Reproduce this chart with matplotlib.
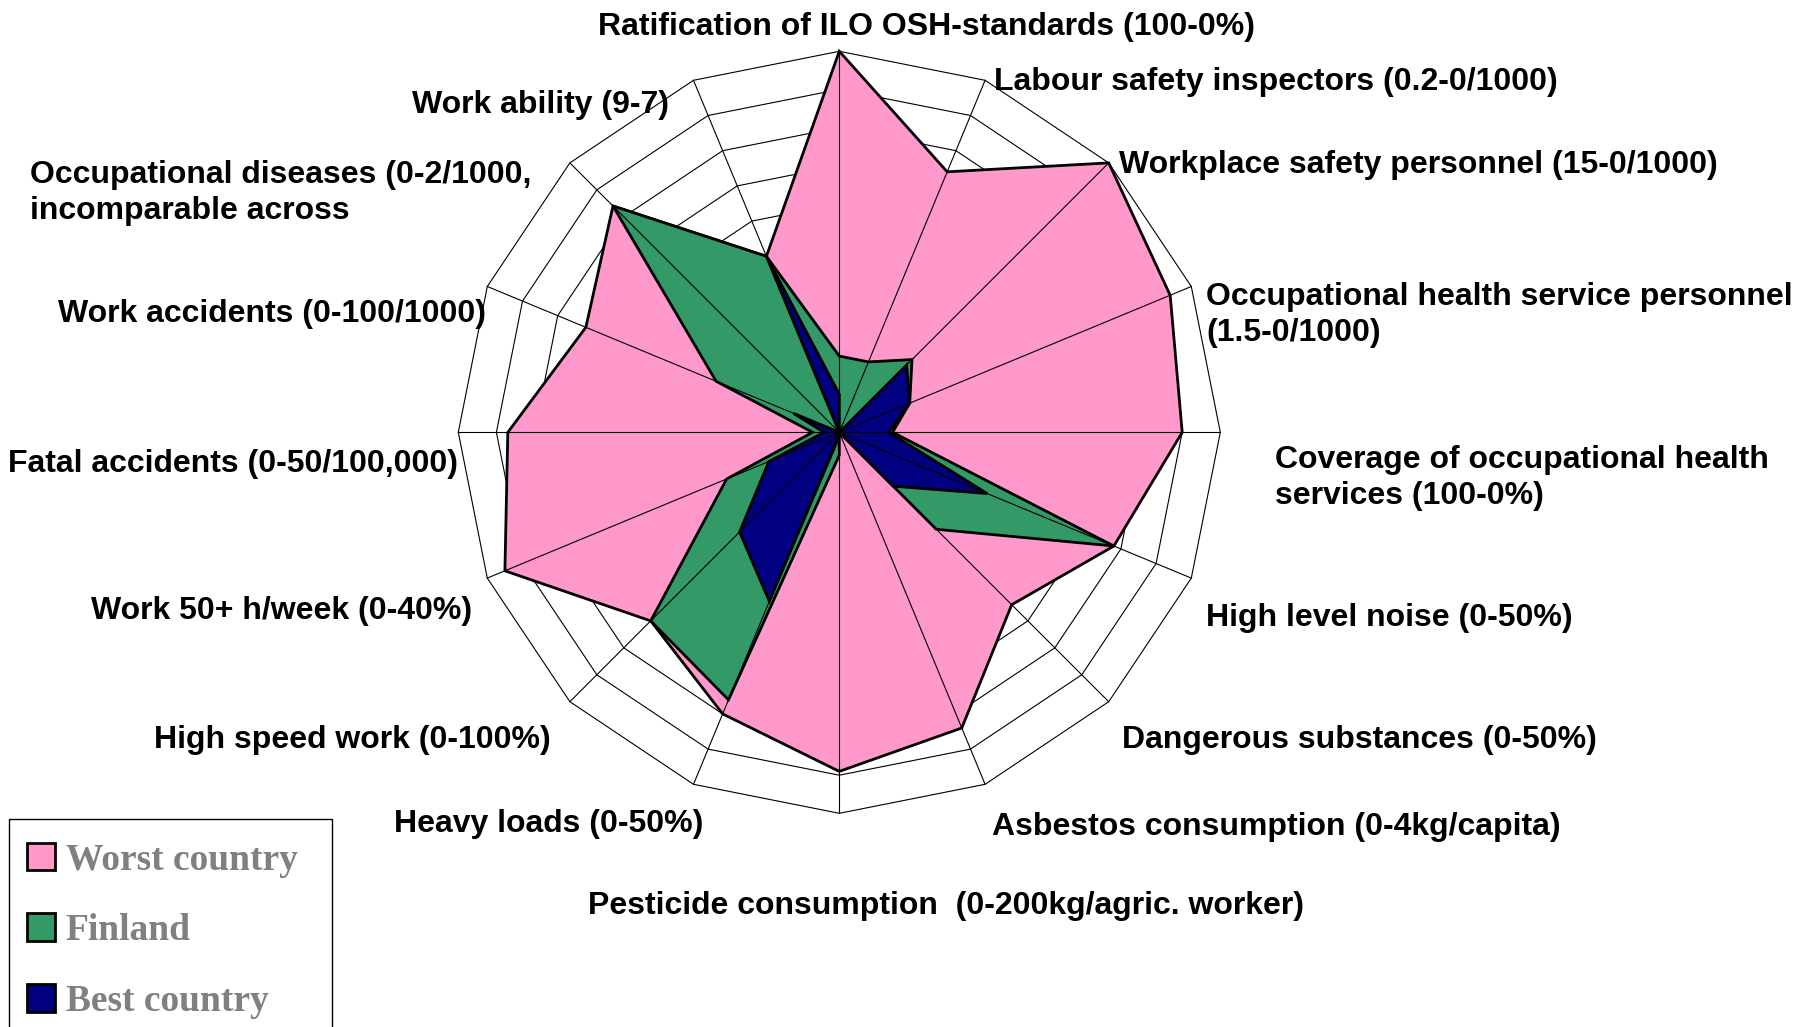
import numpy as np
import matplotlib
matplotlib.use("Agg")
import matplotlib.pyplot as plt
from matplotlib.patches import Rectangle

# Radar chart: occupational safety and health indicators (worst / Finland / best)

categories = [
    "Ratification of ILO OSH-standards (100-0%)",
    "Labour safety inspectors (0.2-0/1000)",
    "Workplace safety personnel (15-0/1000)",
    "Occupational health service personnel\n(1.5-0/1000)",
    "Coverage of occupational health\nservices (100-0%)",
    "High level noise (0-50%)",
    "Dangerous substances (0-50%)",
    "Asbestos consumption (0-4kg/capita)",
    "Pesticide consumption  (0-200kg/agric. worker)",
    "Heavy loads (0-50%)",
    "High speed work (0-100%)",
    "Work 50+ h/week (0-40%)",
    "Fatal accidents (0-50/100,000)",
    "Work accidents (0-100/1000)",
    "Occupational diseases (0-2/1000,\nincomparable across",
    "Work ability (9-7)",
]

worst = [1.00, 0.74, 1.00, 0.94, 0.90, 0.78, 0.64, 0.84, 0.89, 0.80, 0.70, 0.95, 0.87, 0.72, 0.84, 0.50]
finland = [0.20, 0.20, 0.27, 0.20, 0.14, 0.78, 0.36, 0.00, 0.06, 0.76, 0.70, 0.32, 0.07, 0.35, 0.84, 0.50]
best = [0.10, 0.00, 0.25, 0.20, 0.13, 0.42, 0.20, 0.00, 0.01, 0.48, 0.37, 0.20, 0.04, 0.13, 0.00, 0.50]

series_names = ["Worst country", "Finland", "Best country"]
series_colors = ["#FF99CC", "#339966", "#000080"]

# label anchor positions in pixels (x, y, ha)
label_pos = [
    (926, 27, "center"), (994, 82, "left"), (1119, 165, "left"),
    (1206, 315, "left"), (1275, 478, "left"), (1206, 618, "left"),
    (1122, 740, "left"), (992, 827, "left"), (588, 906, "left"),
    (703, 824, "right"), (551, 740, "right"), (472, 611, "right"),
    (458, 464, "right"), (486, 314, "right"), (30, 193, "left"),
    (669, 105, "right"),
]

W, H = 1809, 1027
fig = plt.figure(figsize=(W / 100, H / 100), dpi=100)
fig.patch.set_facecolor("white")

cx, cy, R = 839.3, 432.3, 381
ax = fig.add_axes([(cx - R) / W, (H - cy - R) / H, 2 * R / W, 2 * R / H], projection="polar")
ax.set_theta_zero_location("N")
ax.set_theta_direction(-1)
ax.set_ylim(0, 1)
ax.set_xticks([])
ax.set_yticks([])
ax.grid(False)
ax.spines["polar"].set_visible(False)

n = len(categories)
angles = np.arange(n) * 2 * np.pi / n
closed = np.append(angles, angles[0])

# polygon rings
for r in np.arange(1, 11) / 10:
    ax.plot(closed, [r] * (n + 1), color="black", lw=0.8, zorder=1, clip_on=False)

handles = []
for i, (vals, col) in enumerate(zip([worst, finland, best], series_colors)):
    v = np.append(vals, vals[0])
    p = ax.fill(closed, v, facecolor=col, edgecolor="black", lw=2.0,
                zorder=2 + i, clip_on=False)
    handles.append(p[0])

# spokes on top
for a in angles:
    ax.plot([a, a], [0, 1], color="black", lw=0.8, zorder=6, clip_on=False)

for text, (x, y, ha) in zip(categories, label_pos):
    fig.text(x / W, 1 - y / H, text, ha=ha, va="center", fontsize=23,
             fontweight="bold", family="Liberation Sans", linespacing=1.25)

# legend box runs off the bottom edge of the figure
fig.add_artist(Rectangle((9 / W, -0.05), 322.5 / W, 0.05 + 1 - 819.5 / H,
                         transform=fig.transFigure, facecolor="white",
                         edgecolor="black", lw=1.0, zorder=9))
leg = fig.legend(handles, series_names, loc="upper left",
                 bbox_to_anchor=(26.5 / W, 1 - 842.6 / H),
                 borderaxespad=0, frameon=False,
                 prop=dict(family="Liberation Serif", weight="bold", size=27),
                 labelcolor="#808080", handlelength=0.75, handleheight=0.75,
                 handletextpad=0.3, labelspacing=0.95, borderpad=0)
leg.set_zorder(10)

fig.savefig("out.png", dpi=100)
